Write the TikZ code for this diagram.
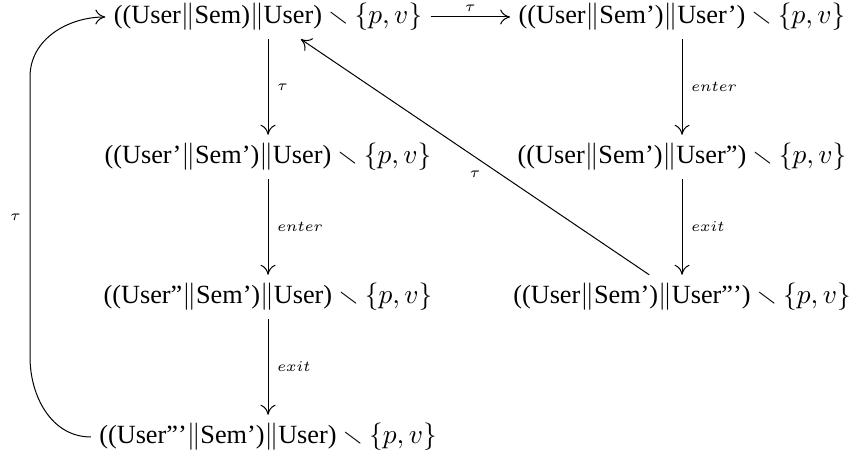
\documentclass[tikz,border=0pt]{standalone}
\usepackage{fontspec}
\setmainfont{Liberation Serif}
\usepackage{amsmath}
\usepackage{amssymb}
\usetikzlibrary{arrows.meta}

\newcommand{\rstr}{${}\smallsetminus\{p,v\}$}

\begin{document}
\begin{tikzpicture}[
  thick,  proc/.style={inner sep=3pt,font=\fontsize{10.5}{12.6}\selectfont},  lbl/.style={inner sep=3.5pt,font=\fontsize{6}{7.2}\selectfont},  >={To[length=4pt,width=6pt]},  baseline=(current bounding box.north)
]
  \useasboundingbox (0,0) rectangle (11.977,-6.439);
  \node[proc] (s0) at (3.768,-0.239) {((User$\|$Sem)$\|$User)\rstr};
  \node[proc] (s1) at (9.588,-0.239) {((User$\|$Sem')$\|$User')\rstr};
  \node[proc] (s2) at (3.768,-2.207) {((User'$\|$Sem')$\|$User)\rstr};
  \node[proc] (s3) at (9.588,-2.207) {((User$\|$Sem')$\|$User'')\rstr};
  \node[proc] (s4) at (3.768,-4.175) {((User''$\|$Sem')$\|$User)\rstr};
  \node[proc] (s5) at (9.588,-4.175) {((User$\|$Sem')$\|$User''')\rstr};
  \node[proc] (s6) at (3.768,-6.143) {((User'''$\|$Sem')$\|$User)\rstr};
  \coordinate (lb) at (0.422,-5.020);
  \coordinate (lt) at (0.422,-1.080);
  \draw[->,thin] (s0) -- node[lbl,above,inner sep=2pt] {$\tau$} (s1);
  \draw[->,thin] (s0) -- node[lbl,right] {$\tau$} (s2);
  \draw[->,thin] (s2) -- node[lbl,right] {$enter$} (s4);
  \draw[->,thin] (s4) -- node[lbl,right] {$exit$} (s6);
  \draw[->,thin] (s1) -- node[lbl,right] {$enter$} (s3);
  \draw[->,thin] (s3) -- node[lbl,right] {$exit$} (s5);
  \draw[->,thin] (s5) -- node[lbl,below,yshift=-2pt] {$\tau$} (s0);
  \draw[->,thin] (s6.west) to[out=180,in=-90] (lb) -- node[lbl,left] {$\tau$} (lt) to[out=90,in=180] (s0.west);
\end{tikzpicture}
\end{document}
